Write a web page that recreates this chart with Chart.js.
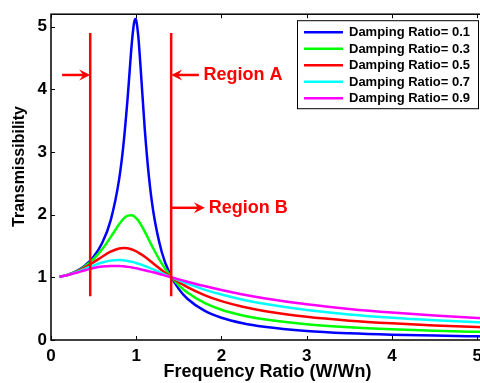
<!DOCTYPE html>
<html>
<head>
<meta charset="utf-8">
<title>Transmissibility</title>
<script src="https://cdn.jsdelivr.net/npm/chart.js@4/dist/chart.umd.min.js"></script>
<style>
  html, body { margin: 0; padding: 0; background: #fff; overflow: hidden; }
  #wrap { width: 492px; height: 383px; }
</style>
</head>
<body>
<div id="wrap"><canvas id="chart" width="492" height="383"></canvas></div>
<script>
// frequency ratio (W/Wn) on the x axis
const freqRatio = [0.1, 0.2, 0.3, 0.4, 0.5, 0.6, 0.7, 0.8, 0.85, 0.9, 0.95, 0.975, 0.99, 1.0, 1.025, 1.05,
  1.1, 1.15, 1.2, 1.3, 1.4, 1.5, 1.6, 1.8, 2.0, 2.25, 2.5, 3.0, 3.5, 4.0, 4.5, 5.0, 5.1];

// transmissibility
const zeta01 = [1.010, 1.042, 1.099, 1.189, 1.328, 1.547, 1.909, 2.571, 3.117, 3.882, 4.766, 5.065, 5.123, 5.099, 4.834, 4.373,
  3.367, 2.590, 2.052, 1.401, 1.039, 0.812, 0.659, 0.469, 0.356, 0.268, 0.212, 0.145, 0.108, 0.085, 0.070, 0.059, 0.057];
const zeta03 = [1.010, 1.041, 1.095, 1.177, 1.293, 1.447, 1.642, 1.849, 1.933, 1.985, 1.991, 1.973, 1.957, 1.944, 1.903, 1.852,
  1.730, 1.595, 1.460, 1.218, 1.024, 0.873, 0.757, 0.592, 0.483, 0.392, 0.330, 0.251, 0.203, 0.171, 0.148, 0.131, 0.128];
const zeta05 = [1.010, 1.040, 1.090, 1.158, 1.240, 1.329, 1.409, 1.460, 1.468, 1.463, 1.444, 1.431, 1.421, 1.414, 1.395, 1.374,
  1.328, 1.276, 1.222, 1.114, 1.014, 0.923, 0.844, 0.717, 0.620, 0.530, 0.463, 0.370, 0.309, 0.266, 0.233, 0.208, 0.204];
const zeta07 = [1.010, 1.039, 1.082, 1.135, 1.190, 1.237, 1.267, 1.276, 1.272, 1.262, 1.248, 1.239, 1.233, 1.229, 1.218, 1.207,
  1.181, 1.154, 1.126, 1.067, 1.008, 0.952, 0.899, 0.804, 0.725, 0.643, 0.577, 0.478, 0.408, 0.355, 0.315, 0.283, 0.277];
const zeta09 = [1.010, 1.037, 1.074, 1.114, 1.148, 1.172, 1.183, 1.181, 1.176, 1.167, 1.157, 1.151, 1.147, 1.144, 1.137, 1.130,
  1.114, 1.097, 1.080, 1.043, 1.005, 0.968, 0.931, 0.861, 0.797, 0.727, 0.667, 0.569, 0.495, 0.437, 0.391, 0.353, 0.347];

const seriesLabels = ['Damping Ratio= 0.1', 'Damping Ratio= 0.3', 'Damping Ratio= 0.5', 'Damping Ratio= 0.7', 'Damping Ratio= 0.9'];
const seriesValues = [zeta01, zeta03, zeta05, zeta07, zeta09];
const seriesColors = ['#0000ff', '#00ff00', '#ff0000', '#00ffff', '#ff00ff'];

const yTitle = 'Transmissibility';
const yTitleAt = 2.77; // matlab put the label a bit above the middle of the axis

// region markers (data units)
const regionLines = [0.46, 1.41];
const regionLineSpan = [0.7, 4.9];
const regionArrows = [
  { from: 0.13, to: 0.46, y: 4.23 },
  { from: 1.735, to: 1.41, y: 4.23 },
  { from: 1.41, to: 1.805, y: 2.11 }
];
const regionTexts = [
  { text: 'Region A', x: 1.79, y: 4.23 },
  { text: 'Region B', x: 1.85, y: 2.11 }
];

const FONT = '"Liberation Sans", Arial, sans-serif';

function drawArrow(ctx, x1, y, x2) {
  const dir = Math.sign(x2 - x1);
  ctx.beginPath();
  ctx.moveTo(x1, y);
  ctx.lineTo(x2 - dir * 6, y);
  ctx.stroke();
  ctx.beginPath();
  ctx.moveTo(x2, y);
  ctx.lineTo(x2 - dir * 11, y - 5.5);
  ctx.lineTo(x2 - dir * 7, y);
  ctx.lineTo(x2 - dir * 11, y + 5.5);
  ctx.closePath();
  ctx.fill();
}

const regionPlugin = {
  id: 'regions',
  afterDatasetsDraw(chart) {
    const { ctx, scales: { x, y } } = chart;
    ctx.save();
    ctx.strokeStyle = '#ff0000';
    ctx.fillStyle = '#ff0000';
    ctx.lineWidth = 2.5;
    regionLines.forEach(v => {
      const px = x.getPixelForValue(v);
      ctx.beginPath();
      ctx.moveTo(px, y.getPixelForValue(regionLineSpan[0]));
      ctx.lineTo(px, y.getPixelForValue(regionLineSpan[1]));
      ctx.stroke();
    });
    regionArrows.forEach(a => {
      drawArrow(ctx, x.getPixelForValue(a.from), y.getPixelForValue(a.y), x.getPixelForValue(a.to));
    });
    ctx.font = 'bold 18px ' + FONT;
    ctx.textBaseline = 'middle';
    ctx.textAlign = 'left';
    regionTexts.forEach(t => {
      ctx.fillText(t.text, x.getPixelForValue(t.x), y.getPixelForValue(t.y));
    });
    ctx.restore();
  }
};

// matlab style box with inward ticks, y label and the legend
const framePlugin = {
  id: 'frame',
  afterDraw(chart) {
    const { ctx, chartArea: a, scales: { x, y } } = chart;
    ctx.save();
    ctx.strokeStyle = '#000';
    ctx.lineWidth = 1.5;
    ctx.strokeRect(a.left, a.top, a.right - a.left, a.bottom - a.top);
    ctx.lineWidth = 1;
    ctx.beginPath();
    x.ticks.forEach(t => {
      const px = Math.round(x.getPixelForValue(t.value)) + 0.5;
      ctx.moveTo(px, a.bottom); ctx.lineTo(px, a.bottom - 4);
      ctx.moveTo(px, a.top); ctx.lineTo(px, a.top + 4);
    });
    y.ticks.forEach(t => {
      const py = Math.round(y.getPixelForValue(t.value)) + 0.5;
      ctx.moveTo(a.left, py); ctx.lineTo(a.left + 4, py);
      ctx.moveTo(a.right, py); ctx.lineTo(a.right - 4, py);
    });
    ctx.stroke();

    // y axis label
    ctx.save();
    ctx.translate(20, y.getPixelForValue(yTitleAt));
    ctx.rotate(-Math.PI / 2);
    ctx.font = 'bold 16px ' + FONT;
    ctx.fillStyle = '#000';
    ctx.textAlign = 'center';
    ctx.textBaseline = 'middle';
    ctx.fillText(yTitle, 0, 0);
    ctx.restore();

    // legend
    ctx.font = 'bold 13px ' + FONT;
    const textW = Math.max(...seriesLabels.map(s => ctx.measureText(s).width));
    const boxW = 7 + 39 + 6 + textW + 8;
    const boxR = a.right - 6;
    const boxL = boxR - boxW;
    const boxT = a.top + 6;
    const rowH = 16.5;
    const boxH = rowH * seriesLabels.length + 5.5;
    ctx.fillStyle = '#fff';
    ctx.fillRect(boxL, boxT, boxW, boxH);
    ctx.lineWidth = 1;
    ctx.strokeStyle = '#000';
    ctx.strokeRect(boxL + 0.5, boxT + 0.5, boxW, boxH);
    ctx.textBaseline = 'middle';
    ctx.textAlign = 'left';
    seriesLabels.forEach((lab, i) => {
      const ry = boxT + 12 + i * rowH;
      ctx.strokeStyle = seriesColors[i];
      ctx.lineWidth = 2.5;
      ctx.beginPath();
      ctx.moveTo(boxL + 7, ry);
      ctx.lineTo(boxL + 46, ry);
      ctx.stroke();
      ctx.fillStyle = '#000';
      ctx.fillText(lab, boxL + 52, ry + 0.5);
    });
    ctx.restore();
  }
};

const ctx = document.getElementById('chart').getContext('2d');
new Chart(ctx, {
  type: 'line',
  data: {
    datasets: seriesValues.map((vals, i) => ({
      label: seriesLabels[i],
      data: freqRatio.map((r, j) => ({ x: r, y: vals[j] })),
      borderColor: seriesColors[i],
      backgroundColor: seriesColors[i],
      borderWidth: 2.5,
      pointRadius: 0,
      cubicInterpolationMode: 'monotone',
      fill: false,
      order: seriesValues.length - 1 - i
    }))
  },
  options: {
    responsive: false,
    animation: false,
    layout: { padding: { top: 13, right: 8, left: 0, bottom: 0 } },
    plugins: {
      legend: { display: false },
      tooltip: { enabled: false }
    },
    scales: {
      x: {
        type: 'linear',
        min: 0,
        max: 5.08,
        afterFit(s) { s.height = 43; },
        grid: { display: false, drawTicks: false },
        border: { display: false },
        ticks: {
          stepSize: 1,
          includeBounds: false,
          maxRotation: 0,
          padding: 6,
          color: '#000',
          font: { family: FONT, size: 17, weight: 'bold' }
        },
        title: {
          display: true,
          text: 'Frequency Ratio (W/Wn)',
          color: '#000',
          padding: { top: 0, bottom: 0 },
          font: { family: FONT, size: 18, weight: 'bold' }
        }
      },
      y: {
        min: 0,
        max: 5.2,
        afterFit(s) { s.width = 51; },
        grid: { display: false, drawTicks: false },
        border: { display: false },
        ticks: {
          stepSize: 1,
          includeBounds: false,
          padding: 4,
          color: '#000',
          font: { family: FONT, size: 17, weight: 'bold' }
        }
      }
    }
  },
  plugins: [regionPlugin, framePlugin]
});
</script>
</body>
</html>
